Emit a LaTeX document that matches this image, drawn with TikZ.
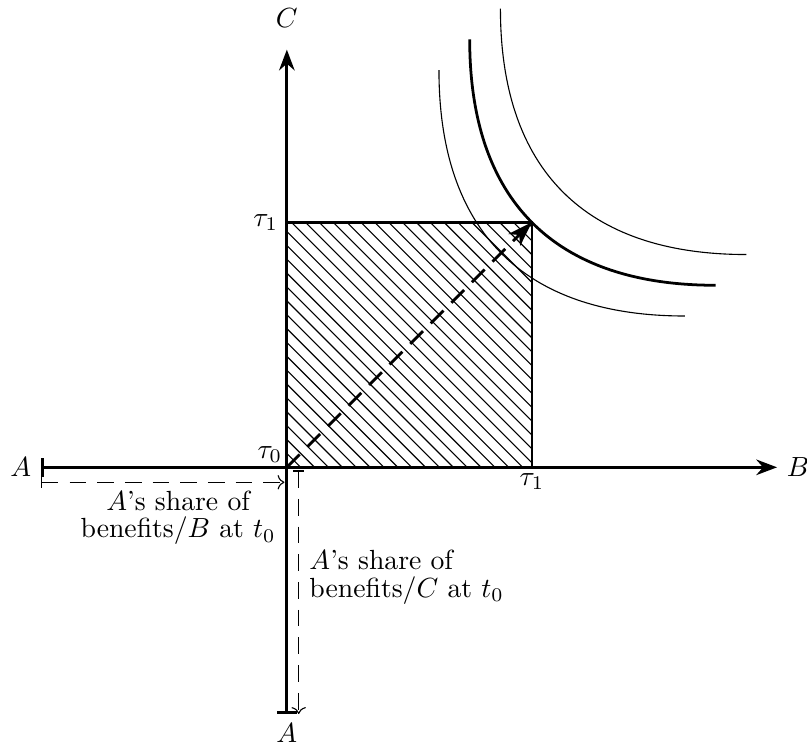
\documentclass[tikz,border=0pt]{standalone}
\usetikzlibrary{arrows.meta, positioning}

\begin{document}
\begin{tikzpicture}[
    heavy/.style={line width=1pt},
    axis/.style={heavy, {Bar[width=7pt]}-{Stealth}},
    share/.style={thin, dash pattern=on 6pt off 4pt, {Bar[width=4pt]}-{To}},
    path/.style={heavy, dash pattern=on 6.5pt off 4pt, -{Stealth[length=9pt, width=6pt, inset=2.5pt]}},
    lbl/.style={align=center, inner sep=0pt}
]
\useasboundingbox (-3.64,-3.52) rectangle (6.60,5.93);

\coordinate (O) at (0,0);
\coordinate (Aw) at (-3.12,0);
\coordinate (Be) at (6.22,0);
\coordinate (As) at (0,-3.13);
\coordinate (Cn) at (0,5.30);
\coordinate (T) at (3.11,3.11);
\coordinate (Tc) at (0,3.11);
\coordinate (Tb) at (3.11,0);

% hatched square
\begin{scope}
  \clip (O) rectangle (T);
  \foreach \k in {1,...,35}
    \draw[thin] (0,\k*0.176) -- (\k*0.176,0);
\end{scope}
\draw[heavy] (Tc) -- (T) -- (Tb);

% indifference curves
\draw[thin] (1.93,5.04) .. controls (1.93,3.00) and (3.00,1.92) .. (5.05,1.92);
\draw[heavy] (2.32,5.43) .. controls (2.32,3.39) and (3.39,2.31) .. (5.44,2.31);
\draw[thin] (2.71,5.82) .. controls (2.71,3.78) and (3.78,2.70) .. (5.83,2.70);

% axes
\draw[axis] (Aw) -- (Be);
\draw[axis] (As) -- (Cn);
\node[left] (lA) at (Aw) {$A$};
\node[right] (lB) at (Be) {$B$};
\node[above=2.8mm of Cn, inner sep=0pt] (lC) {$C$};
\node[below] (lA2) at (As) {$A$};

\node[left, inner sep=3pt] (t1c) at (Tc) {$\tau_1$};
\node[below, inner sep=2pt] (t1b) at (Tb) {$\tau_1$};
\node[above left, inner sep=1.5pt] (t0) at (O) {$\tau_0$};

% move to the new frontier
\draw[path] (O) -- (T);

% shares of A
\coordinate (sB1) at (-3.12,-0.19);
\coordinate (sB2) at (-0.03,-0.19);
\coordinate (sC1) at (0.15,-0.04);
\coordinate (sC2) at (0.15,-3.13);
\draw[share] (sB1) -- (sB2);
\draw[share] (sC1) -- (sC2);
\node[lbl] (shareB) at (-1.38,-0.64) {$A$'s share of\\[-2pt] benefits/$B$ at $t_0$};
\node[lbl, align=left, anchor=west] (shareC) at (0.28,-1.39) {$A$'s share of\\[-2pt] benefits/$C$ at $t_0$};
\end{tikzpicture}
\end{document}
